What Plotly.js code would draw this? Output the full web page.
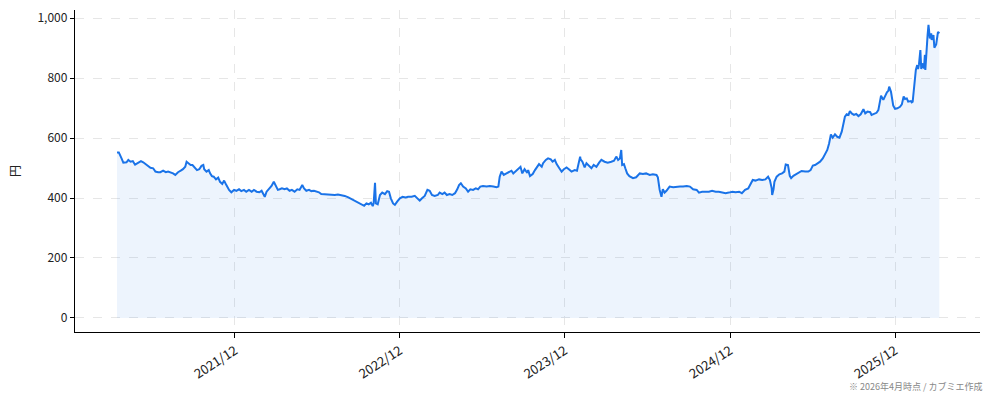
<!DOCTYPE html>
<html>
<head>
<meta charset="utf-8">
<script src="https://cdn.plot.ly/plotly-3.0.1.min.js"></script>
<style>
  html, body { margin: 0; padding: 0; background: #ffffff; }
  #chart { width: 994px; height: 401px; }
</style>
</head>
<body>
<div id="chart"></div>
<script>
// 株価（円）、チャートから読み取り
const dates = [
  "2021-03-15","2021-03-19","2021-03-25","2021-03-29","2021-04-05","2021-04-09","2021-04-14","2021-04-19","2021-04-24",
  "2021-05-01","2021-05-07","2021-05-12","2021-05-18","2021-05-23","2021-05-28","2021-06-03","2021-06-08","2021-06-14",
  "2021-06-19","2021-06-25","2021-07-01","2021-07-06","2021-07-12","2021-07-17","2021-07-22","2021-07-28","2021-08-03",
  "2021-08-08","2021-08-13","2021-08-16","2021-08-20","2021-08-25","2021-08-29","2021-09-03","2021-09-08","2021-09-13",
  "2021-09-18","2021-09-22","2021-09-24","2021-09-29","2021-10-04","2021-10-07","2021-10-11","2021-10-15","2021-10-20",
  "2021-10-25","2021-10-29","2021-11-03","2021-11-07","2021-11-12","2021-11-18","2021-11-23","2021-11-29","2021-12-04",
  "2021-12-10","2021-12-15","2021-12-21","2021-12-26","2022-01-01","2022-01-07","2022-01-12","2022-01-18","2022-01-24",
  "2022-01-29","2022-02-01","2022-02-05","2022-02-09","2022-02-15","2022-02-20","2022-02-25","2022-03-01","2022-03-06",
  "2022-03-10","2022-03-15","2022-03-21","2022-03-26","2022-04-01","2022-04-06","2022-04-12","2022-04-18","2022-04-23",
  "2022-04-29","2022-05-03","2022-05-08","2022-05-14","2022-05-19","2022-05-25","2022-05-30","2022-06-05","2022-06-10",
  "2022-06-18","2022-06-25","2022-07-03","2022-07-10","2022-07-17","2022-07-25","2022-08-01","2022-08-09","2022-08-16",
  "2022-08-24","2022-08-31","2022-09-07","2022-09-13","2022-09-18","2022-09-23","2022-09-28","2022-10-02","2022-10-04",
  "2022-10-07","2022-10-09","2022-10-13","2022-10-18","2022-10-23","2022-10-29","2022-11-03","2022-11-07","2022-11-11",
  "2022-11-16","2022-11-20","2022-11-25","2022-12-01","2022-12-07","2022-12-14","2022-12-19","2022-12-27","2023-01-03",
  "2023-01-09","2023-01-14","2023-01-19","2023-01-25","2023-01-31","2023-02-05","2023-02-10","2023-02-16","2023-02-23",
  "2023-02-27","2023-03-05","2023-03-10","2023-03-15","2023-03-21","2023-03-27","2023-04-02","2023-04-07","2023-04-11",
  "2023-04-15","2023-04-20","2023-04-26","2023-05-01","2023-05-06","2023-05-12","2023-05-18","2023-05-23","2023-05-28",
  "2023-06-03","2023-06-11","2023-06-18","2023-06-26","2023-07-03","2023-07-07","2023-07-10","2023-07-14","2023-07-19",
  "2023-07-25","2023-07-31","2023-08-05","2023-08-09","2023-08-14","2023-08-20","2023-08-25","2023-08-29","2023-09-03",
  "2023-09-09","2023-09-11","2023-09-15","2023-09-21","2023-09-26","2023-10-01","2023-10-05","2023-10-11","2023-10-14",
  "2023-10-20","2023-10-25","2023-10-31","2023-11-04","2023-11-09","2023-11-13","2023-11-19","2023-11-24","2023-11-29",
  "2023-12-05","2023-12-10","2023-12-16","2023-12-23","2023-12-28","2024-01-04","2024-01-05","2024-01-09","2024-01-14",
  "2024-01-18","2024-01-23","2024-01-29","2024-02-03","2024-02-09","2024-02-15","2024-02-20","2024-02-27","2024-03-05",
  "2024-03-13","2024-03-19","2024-03-24","2024-03-28","2024-04-01","2024-04-04","2024-04-06","2024-04-10","2024-04-13",
  "2024-04-17","2024-04-22","2024-04-30","2024-05-07","2024-05-15","2024-05-22","2024-05-29","2024-06-06","2024-06-13",
  "2024-06-21","2024-06-24","2024-06-28","2024-07-02","2024-07-05","2024-07-09","2024-07-13","2024-07-20","2024-07-28",
  "2024-08-04","2024-08-12","2024-08-19","2024-08-27","2024-09-03","2024-09-10","2024-09-18","2024-09-23","2024-09-30",
  "2024-10-08","2024-10-15","2024-10-22","2024-10-30","2024-11-06","2024-11-13","2024-11-21","2024-11-28","2024-12-06",
  "2024-12-13","2024-12-21","2024-12-27","2025-01-03","2025-01-10","2025-01-15","2025-01-20","2025-01-26","2025-02-03",
  "2025-02-10","2025-02-17","2025-02-23","2025-02-27","2025-03-03","2025-03-04","2025-03-07","2025-03-09","2025-03-14",
  "2025-03-20","2025-03-26","2025-03-31","2025-04-03","2025-04-08","2025-04-12","2025-04-15","2025-04-20","2025-04-26",
  "2025-05-03","2025-05-08","2025-05-16","2025-05-23","2025-05-28","2025-06-02","2025-06-07","2025-06-12","2025-06-18",
  "2025-06-24","2025-06-29","2025-07-04","2025-07-08","2025-07-12","2025-07-16","2025-07-21","2025-07-26","2025-07-31",
  "2025-08-05","2025-08-09","2025-08-12","2025-08-16","2025-08-20","2025-08-23","2025-08-27","2025-09-01","2025-09-06",
  "2025-09-11","2025-09-16","2025-09-22","2025-09-26","2025-10-01","2025-10-07","2025-10-10","2025-10-15","2025-10-21",
  "2025-10-25","2025-10-29","2025-10-31","2025-11-05","2025-11-09","2025-11-13","2025-11-16","2025-11-18","2025-11-22",
  "2025-11-24","2025-11-27","2025-12-01","2025-12-06","2025-12-12","2025-12-16","2025-12-20","2025-12-23","2025-12-27",
  "2025-12-30","2026-01-05","2026-01-07","2026-01-09","2026-01-12","2026-01-14","2026-01-16","2026-01-19","2026-01-21",
  "2026-01-23","2026-01-26","2026-01-28","2026-01-30","2026-02-03","2026-02-05","2026-02-06","2026-02-09","2026-02-11",
  "2026-02-13","2026-02-16","2026-02-19","2026-02-20","2026-02-24","2026-02-26","2026-03-02","2026-03-04","2026-03-06",
  "2026-03-09"
];
const prices = [
  552,552,532,518,519,527,521,523,511,
  516,523,519,512,508,501,499,488,486,
  486,491,486,488,486,482,477,486,491,
  496,504,521,516,510,510,502,493,496,
  507,510,496,488,493,482,473,471,462,
  468,454,447,458,443,427,419,427,424,
  429,423,427,421,427,421,427,421,419,
  424,416,404,421,432,440,454,440,427,
  429,432,429,432,424,427,421,429,427,
  443,432,424,427,423,424,421,419,413,
  412,412,412,410,412,410,407,402,396,
  390,384,379,374,382,379,384,373,382,
  451,382,379,410,418,413,423,421,399,
  382,377,388,399,404,402,404,404,407,
  399,391,399,407,427,424,410,407,410,
  418,413,418,410,413,410,416,429,443,
  449,438,432,421,429,427,432,429,438,
  440,438,440,438,436,438,471,488,477,
  482,486,491,482,488,496,504,482,496,
  484,493,473,480,493,507,513,504,516,
  527,532,529,521,527,513,499,488,496,
  502,496,488,493,491,538,529,521,502,
  516,507,499,510,504,518,527,521,518,
  521,524,538,527,532,560,510,513,499,
  482,473,466,469,482,480,482,477,479,
  477,469,427,404,429,418,424,438,436,
  438,438,438,440,438,429,427,418,421,
  421,421,424,421,421,418,416,418,421,
  419,421,416,427,432,449,460,458,462,
  460,462,471,460,432,410,429,454,471,
  479,482,488,512,510,474,466,474,479,
  486,490,488,488,493,508,510,516,521,
  532,546,560,582,612,601,612,604,601,
  621,654,671,679,677,690,682,677,680,
  673,679,696,682,688,686,677,680,684,
  693,719,741,727,743,752,757,771,754,
  727,708,697,699,704,712,738,730,732,
  721,723,719,721,766,810,827,843,830,
  846,893,830,849,832,877,827,916,943,
  977,932,949,927,943,901,912,932,954,
  949
];
const yTickVals = [0, 200, 400, 600, 800, 1000];
const noteText = "※ 2026年4月時点 / カブミエ作成";

const lineColor = "#1a73e8";

const trace = {
  x: dates,
  y: prices,
  type: "scatter",
  mode: "lines",
  fill: "tozeroy",
  fillcolor: "rgba(26,115,232,0.08)",
  line: { color: lineColor, width: 2 },
  hoverinfo: "skip"
};

const layout = {
  width: 994,
  height: 401,
  paper_bgcolor: "#ffffff",
  plot_bgcolor: "#ffffff",
  margin: { l: 75, r: 14, t: 10, b: 69 },
  showlegend: false,
  font: { family: "'Noto Sans CJK JP', 'Noto Sans', sans-serif", size: 12, color: "#222222" },
  xaxis: {
    type: "date",
    range: ["2020-12-12", "2026-06-07"],
    tick0: "2021-12-01",
    dtick: "M12",
    tickformat: "%Y/%m",
    tickangle: -33,
    ticks: "outside",
    ticklen: 5,
    tickcolor: "#000000",
    showline: true,
    linecolor: "#000000",
    linewidth: 1.2,
    showgrid: true,
    gridcolor: "#e6e6e6",
    griddash: "dash",
    gridwidth: 1,
    zeroline: false,
    tickfont: { size: 13, color: "#222222" }
  },
  yaxis: {
    range: [-46.7, 1026.7],
    tickvals: yTickVals,
    tickformat: ",d",
    ticks: "outside",
    ticklen: 4,
    tickcolor: "#000000",
    showline: true,
    linecolor: "#000000",
    linewidth: 1.2,
    showgrid: true,
    gridcolor: "#e6e6e6",
    griddash: "dash",
    gridwidth: 1,
    zeroline: false,
    title: { text: "円", standoff: 14, font: { size: 12, color: "#222222" } },
    tickfont: { size: 12, color: "#222222" }
  },
  annotations: [{
    text: noteText,
    xref: "paper", yref: "paper",
    x: 1.006, y: -0.143,
    xanchor: "right", yanchor: "top",
    showarrow: false,
    font: { size: 9, color: "#888888" }
  }]
};

Plotly.newPlot("chart", [trace], layout, { displayModeBar: false, staticPlot: true });
</script>
</body>
</html>
